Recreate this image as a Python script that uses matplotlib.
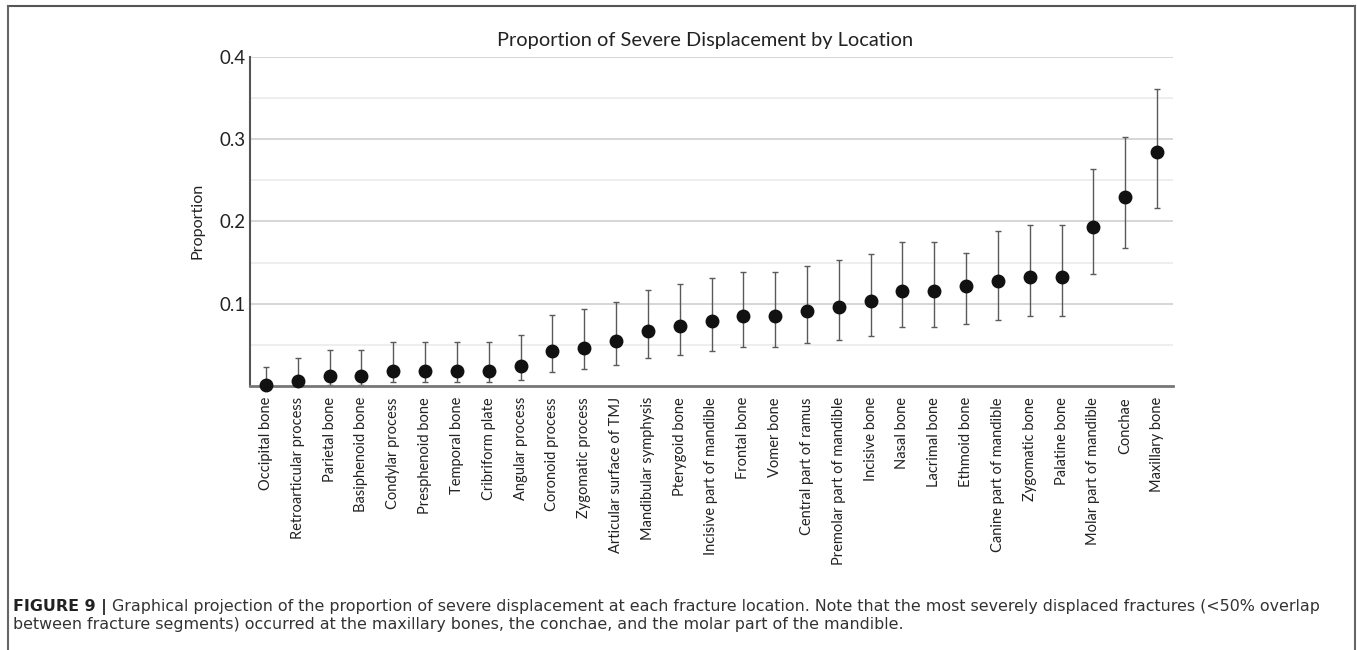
import matplotlib
matplotlib.use("Agg")
import matplotlib.pyplot as plt
from matplotlib.lines import Line2D
import numpy as np

locations = ["Occipital bone", "Retroarticular process", "Parietal bone", "Basiphenoid bone",
             "Condylar process", "Presphenoid bone", "Temporal bone", "Cribriform plate",
             "Angular process", "Coronoid process", "Zygomatic process", "Articular surface of TMJ",
             "Mandibular symphysis", "Pterygoid bone", "Incisive part of mandible", "Frontal bone",
             "Vomer bone", "Central part of ramus", "Premolar part of mandible", "Incisive bone",
             "Nasal bone", "Lacrimal bone", "Ethmoid bone", "Canine part of mandible",
             "Zygomatic bone", "Palatine bone", "Molar part of mandible", "Conchae", "Maxillary bone"]
proportion = [0.001, 0.0065, 0.012, 0.012, 0.018, 0.018, 0.018, 0.018, 0.0247, 0.0425,
              0.0462, 0.055, 0.0672, 0.0733, 0.079, 0.085, 0.085, 0.091, 0.0964, 0.1033,
              0.1154, 0.1154, 0.121, 0.127, 0.133, 0.133, 0.1928, 0.230, 0.2847]
ci_lower = [0.0, 0.0005, 0.0015, 0.0015, 0.0045, 0.0045, 0.0045, 0.0045, 0.0073, 0.017,
            0.0207, 0.025, 0.034, 0.038, 0.043, 0.047, 0.047, 0.052, 0.056, 0.061,
            0.0713, 0.0713, 0.0757, 0.0806, 0.0846, 0.0846, 0.1365, 0.1677, 0.2166]
ci_upper = [0.023, 0.034, 0.044, 0.044, 0.053, 0.053, 0.053, 0.053, 0.0616, 0.0859,
            0.094, 0.1017, 0.1166, 0.1243, 0.1316, 0.1385, 0.1385, 0.146, 0.1535, 0.1608,
            0.1746, 0.1746, 0.162, 0.188, 0.1956, 0.1956, 0.2637, 0.3026, 0.3605]
yticks = [0.1, 0.2, 0.3, 0.4]
minor_grid = [0.05, 0.15, 0.25, 0.35]

title_text = "Proportion of Severe Displacement by Location"
caption_bold = "FIGURE 9 | "
caption_line1 = ("Graphical projection of the proportion of severe displacement at each fracture location. "
                 "Note that the most severely displaced fractures (<50% overlap")
caption_line2 = ("between fracture segments) occurred at the maxillary bones, the conchae, "
                 "and the molar part of the mandible.")

chart_font = ["Lato", "DejaVu Sans"]
caption_font = ["DejaVu Sans"]

W, H = 1357, 650
fig = plt.figure(figsize=(W / 100, H / 100), dpi=100)
ax = fig.add_axes([250 / W, 1 - 386 / H, (1173 - 250) / W, (386 - 56.7) / H])

x = np.arange(len(locations))
p = np.array(proportion)
lo = p - np.array(ci_lower)
hi = np.array(ci_upper) - p

for g in yticks:
    ax.axhline(g, color="#cfcfcf", lw=1.2, zorder=0)
for g in minor_grid:
    ax.axhline(g, color="#ebebeb", lw=1.2, zorder=0)

ax.errorbar(x, p, yerr=[lo, hi], fmt="none", ecolor="#5a5a5a", elinewidth=1.0,
            capsize=2.2, capthick=1.0, zorder=2, clip_on=False)
ax.plot(x, p, "o", color="#111111", markersize=9, zorder=3, clip_on=False)

ax.set_xlim(-0.5, len(locations) - 0.5)
ax.set_ylim(0, 0.4)
ax.set_yticks(yticks)
ax.set_yticklabels([f"{v:.1f}" for v in yticks], family=chart_font, fontsize=13.5, color="#222222")
ax.set_xticks(x)
ax.set_xticklabels(locations, rotation=90, family=chart_font, fontsize=10.5, color="#222222")
ax.tick_params(axis="both", length=0, pad=3)
ax.tick_params(axis="x", pad=8)

for s in ["top", "right"]:
    ax.spines[s].set_visible(False)
ax.spines["left"].set_color("#555555")
ax.spines["left"].set_linewidth(1.5)
ax.spines["bottom"].set_color("#777777")
ax.spines["bottom"].set_linewidth(2)

ax.set_ylabel("Proportion", family=chart_font, fontsize=11.6, color="#222222", labelpad=11)
fig.text(705 / W, 1 - 40.5 / H, title_text, family=chart_font,
         fontsize=14.4, color="#222222", ha="center", va="center")

# frame (open at the bottom)
fig.add_artist(Line2D([7.5 / W, 1355 / W], [1 - 6 / H, 1 - 6 / H], transform=fig.transFigure, color="#555555", lw=1.5))
fig.add_artist(Line2D([7.5 / W, 7.5 / W], [0.0, 1 - 6 / H], transform=fig.transFigure, color="#666666", lw=1.5))
fig.add_artist(Line2D([1355 / W, 1355 / W], [0.0, 1 - 6 / H], transform=fig.transFigure, color="#666666", lw=1.5))

# caption, sized so that the first line ends where the reference's does
renderer = fig.canvas.get_renderer()
x0 = 13 / W
target_end = 1320
base = 10.0
tb = fig.text(0, 0, caption_bold, family=caption_font, weight="bold", fontsize=base)
tr = fig.text(0, 0, caption_line1, family=caption_font, fontsize=base)
wsum = tb.get_window_extent(renderer).width + tr.get_window_extent(renderer).width
tb.remove(); tr.remove()
cap_size = base * (target_end - 13) / wsum

t = fig.text(x0, 1 - 611 / H, caption_bold, family=caption_font, weight="bold", fontsize=cap_size,
             color="#222222", va="baseline", ha="left")
bb = t.get_window_extent(renderer=renderer)
fig.text(bb.x1 / W, 1 - 611 / H, caption_line1,
         family=caption_font, fontsize=cap_size, color="#333333", va="baseline", ha="left")
fig.text(x0, 1 - 628.5 / H, caption_line2,
         family=caption_font, fontsize=cap_size, color="#333333", va="baseline", ha="left")

fig.savefig("out.png", dpi=100)
